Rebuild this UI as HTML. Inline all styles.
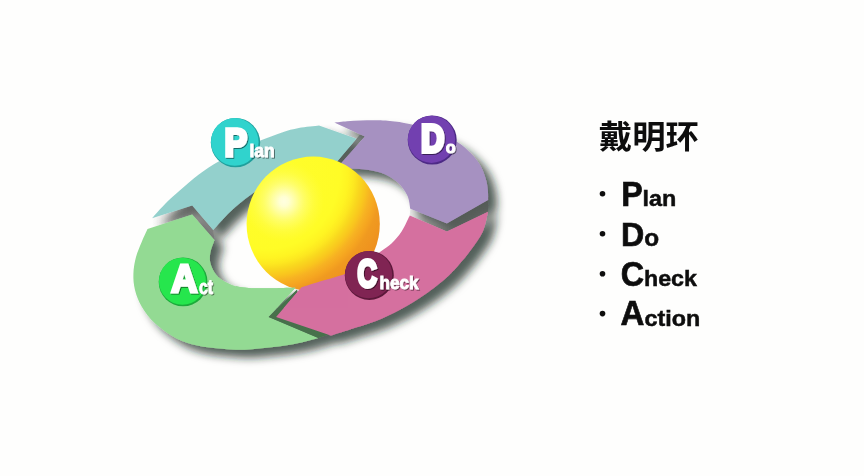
<!DOCTYPE html>
<html lang="zh-CN">
<head>
<meta charset="utf-8">
<title>戴明环 PDCA</title>
<style>
html,body{margin:0;padding:0;background:#fefefd;}
body{width:864px;height:476px;overflow:hidden;}
svg{display:block;}
</style>
</head>
<body>
<svg width="864" height="476" viewBox="0 0 864 476">
<defs>
<filter id="sh" x="-20%" y="-20%" width="140%" height="140%">
  <feGaussianBlur in="SourceAlpha" stdDeviation="4.4" result="b"/>
  <feOffset in="b" dx="8.5" dy="7.5" result="o"/>
  <feFlood flood-color="#14241c" flood-opacity="0.72"/>
  <feComposite in2="o" operator="in" result="s"/>
  <feMerge><feMergeNode in="s"/><feMergeNode in="SourceGraphic"/></feMerge>
</filter>
<filter id="ts" x="-20%" y="-20%" width="140%" height="140%">
  <feGaussianBlur in="SourceAlpha" stdDeviation="0.7" result="b"/>
  <feOffset in="b" dx="1" dy="1" result="o"/>
  <feComponentTransfer in="o" result="s"><feFuncA type="linear" slope="0.5"/></feComponentTransfer>
  <feMerge><feMergeNode in="s"/><feMergeNode in="SourceGraphic"/></feMerge>
</filter>
<filter id="soft" x="-5%" y="-5%" width="110%" height="110%">
  <feGaussianBlur stdDeviation="0.35"/>
</filter>
<linearGradient id="gapfade" gradientUnits="userSpaceOnUse" x1="152" y1="0" x2="190" y2="0">
  <stop offset="0" stop-color="#5e5e5c" stop-opacity="0"/>
  <stop offset="1" stop-color="#5e5e5c" stop-opacity="0.42"/>
</linearGradient>
<linearGradient id="gapfade2" gradientUnits="userSpaceOnUse" x1="408" y1="0" x2="450" y2="0">
  <stop offset="0" stop-color="#4c524e" stop-opacity="0.1"/>
  <stop offset="1" stop-color="#4c524e" stop-opacity="0.62"/>
</linearGradient>
<radialGradient id="ball" gradientUnits="userSpaceOnUse" cx="265" cy="175" r="135">
  <stop offset="0" stop-color="#fefe2e"/>
  <stop offset="0.55" stop-color="#fffc26"/>
  <stop offset="0.615" stop-color="#fff422"/>
  <stop offset="0.66" stop-color="#fde820"/>
  <stop offset="0.70" stop-color="#f9d81e"/>
  <stop offset="0.748" stop-color="#f9c61e"/>
  <stop offset="0.79" stop-color="#f7b222"/>
  <stop offset="0.837" stop-color="#f5a420"/>
  <stop offset="0.87" stop-color="#f09a20"/>
  <stop offset="1" stop-color="#ee8e1e"/>
</radialGradient>
<radialGradient id="glow" gradientUnits="userSpaceOnUse" cx="284" cy="201.5" r="40">
  <stop offset="0" stop-color="#fffff0" stop-opacity="0.92"/>
  <stop offset="0.12" stop-color="#ffffea" stop-opacity="0.88"/>
  <stop offset="0.3" stop-color="#ffffd0" stop-opacity="0.7"/>
  <stop offset="0.5" stop-color="#ffffb0" stop-opacity="0.45"/>
  <stop offset="0.75" stop-color="#ffff90" stop-opacity="0.18"/>
  <stop offset="1" stop-color="#ffff70" stop-opacity="0"/>
</radialGradient>
<clipPath id="ballclip"><ellipse cx="313.2" cy="224" rx="66.6" ry="67.4"/></clipPath>
<clipPath id="front"><rect x="236" y="268" width="112" height="40"/></clipPath>
</defs>
<rect width="864" height="476" fill="#fefefd"/>
<g id="ring" filter="url(#sh)">
<g id="gaps">
<path d="M152 218.3L192.2 205.5L213.2 230L214.5 240L192.2 214.5L147.5 229Z" fill="url(#gapfade)"/>
<path d="M410.3 208.8L446.9 223.6L488.1 200.1L488 211.8L446.9 231.5L409.8 215.5Z" fill="url(#gapfade2)"/>
<path d="M356.5 138.7L333 166.5L335 170L364.8 136.6L360 134.5Z" fill="#4c5654" opacity="0.6"/>
</g>
<path d="M318.2 337.9C315.0 338.7 306.2 341.4 298.8 342.9C291.4 344.4 282.6 346.0 273.6 347.1C264.6 348.2 253.5 349.4 245.0 349.7C236.5 350.0 230.4 349.5 222.4 348.8C214.4 348.1 204.8 347.2 197.2 345.5C189.6 343.8 184.0 342.3 177.0 338.7C170.0 335.1 161.1 328.9 155.2 323.6C149.3 318.3 145.2 312.4 141.8 306.8C138.4 301.2 136.4 295.5 135.0 290.0C133.6 284.5 133.2 279.3 133.4 273.8C133.6 268.3 134.6 262.3 136.0 257.0C137.4 251.7 139.9 246.5 141.8 241.8C143.7 237.1 146.6 231.1 147.5 229.0L192.2 214.5L214.5 240.0C213.8 242.3 210.8 249.4 210.2 253.6C209.6 257.8 209.6 261.4 211.0 265.3C212.4 269.2 214.9 274.0 218.4 277.3C221.9 280.6 226.9 283.1 232.0 284.9C237.1 286.7 241.8 287.4 248.8 288.0C255.8 288.6 266.2 288.3 274.0 288.2C281.8 288.1 292.0 287.6 295.6 287.5L268.6 316.9Z" fill="#93da93"/>
<path d="M297 289.5L268.6 316.9L318.2 337.9L330 334L300 300Z" fill="#46714b"/>
<path d="M488.0 211.8C487.1 215.2 485.5 225.6 482.6 232.0C479.7 238.4 474.4 245.0 470.4 250.5C466.4 256.0 462.6 260.5 458.6 265.0C454.6 269.5 452.2 272.6 446.6 277.5C441.0 282.4 432.9 288.9 425.2 294.2C417.5 299.5 408.7 305.0 400.4 309.5C392.1 314.0 383.6 318.0 375.2 321.3C366.8 324.6 357.4 327.1 350.0 329.5C342.6 331.9 334.0 334.6 330.8 335.6L276.1 316.9L301.5 287.3C304.1 286.5 309.5 284.6 316.8 282.4C324.1 280.1 337.4 277.0 345.4 273.8C353.4 270.6 359.2 266.6 365.0 263.0C370.8 259.4 375.6 255.3 380.0 252.0C384.4 248.7 387.9 246.8 391.5 243.4C395.1 240.0 398.8 235.7 401.6 231.5C404.4 227.3 406.9 221.2 408.3 218.5C409.7 215.8 409.6 216.0 409.8 215.5L446.9 231.5Z" fill="#d56f9f"/>
<path d="M334.3 122.5C336.4 122.3 342.6 121.5 347.0 121.2C351.4 120.9 356.1 120.7 360.4 120.5C364.7 120.3 368.8 120.2 373.0 120.2C377.2 120.2 380.4 120.1 385.6 120.6C390.8 121.0 398.4 121.9 404.1 122.9C409.8 123.9 414.0 124.8 420.0 126.5C426.0 128.2 433.7 130.3 440.0 133.0C446.3 135.7 452.8 139.2 458.0 142.6C463.2 146.0 467.3 149.8 471.0 153.6C474.7 157.4 477.8 161.3 480.3 165.5C482.8 169.7 484.6 174.9 485.8 179.0C487.1 183.1 487.4 186.5 487.8 190.0C488.2 193.5 488.1 198.4 488.1 200.1L446.9 223.6L410.3 208.8C409.8 206.6 409.5 199.9 407.3 195.4C405.1 190.9 401.7 185.8 397.2 182.0C392.7 178.2 387.7 174.8 380.4 172.5C373.1 170.2 361.1 168.9 353.5 168.5C345.9 168.1 338.1 169.8 335.0 170.0L364.8 136.6Z" fill="#a691c1"/>
<path d="M152.0 218.3C154.2 215.8 160.8 208.2 165.5 203.5C170.2 198.8 174.8 194.8 180.3 190.0C185.9 185.2 192.4 179.3 198.8 174.5C205.2 169.7 212.1 165.4 219.0 161.3C225.9 157.2 233.0 153.5 240.0 150.0C247.0 146.5 254.0 143.2 261.0 140.3C268.0 137.4 275.7 134.5 282.0 132.4C288.3 130.3 292.6 129.2 298.8 128.0C305.0 126.8 315.6 125.9 319.0 125.5L356.5 138.7L333.0 166.5C327.5 167.2 309.7 168.9 300.0 171.0C290.3 173.1 283.1 175.1 275.0 179.0C266.9 182.9 258.6 189.1 251.2 194.5C243.8 199.9 236.8 205.6 230.5 211.5C224.2 217.4 216.1 226.9 213.2 230.0L192.2 205.5Z" fill="#93d0cc"/>
</g>
<ellipse cx="313.2" cy="224" rx="66.6" ry="67.4" fill="url(#ball)"/>
<circle cx="284" cy="201.5" r="40" fill="url(#glow)" clip-path="url(#ballclip)"/>
<g clip-path="url(#front)">
<path d="M318.2 337.9C315.0 338.7 306.2 341.4 298.8 342.9C291.4 344.4 282.6 346.0 273.6 347.1C264.6 348.2 253.5 349.4 245.0 349.7C236.5 350.0 230.4 349.5 222.4 348.8C214.4 348.1 204.8 347.2 197.2 345.5C189.6 343.8 184.0 342.3 177.0 338.7C170.0 335.1 161.1 328.9 155.2 323.6C149.3 318.3 145.2 312.4 141.8 306.8C138.4 301.2 136.4 295.5 135.0 290.0C133.6 284.5 133.2 279.3 133.4 273.8C133.6 268.3 134.6 262.3 136.0 257.0C137.4 251.7 139.9 246.5 141.8 241.8C143.7 237.1 146.6 231.1 147.5 229.0L192.2 214.5L214.5 240.0C213.8 242.3 210.8 249.4 210.2 253.6C209.6 257.8 209.6 261.4 211.0 265.3C212.4 269.2 214.9 274.0 218.4 277.3C221.9 280.6 226.9 283.1 232.0 284.9C237.1 286.7 241.8 287.4 248.8 288.0C255.8 288.6 266.2 288.3 274.0 288.2C281.8 288.1 292.0 287.6 295.6 287.5L268.6 316.9Z" fill="#93da93"/>
<path d="M488.0 211.8C487.1 215.2 485.5 225.6 482.6 232.0C479.7 238.4 474.4 245.0 470.4 250.5C466.4 256.0 462.6 260.5 458.6 265.0C454.6 269.5 452.2 272.6 446.6 277.5C441.0 282.4 432.9 288.9 425.2 294.2C417.5 299.5 408.7 305.0 400.4 309.5C392.1 314.0 383.6 318.0 375.2 321.3C366.8 324.6 357.4 327.1 350.0 329.5C342.6 331.9 334.0 334.6 330.8 335.6L276.1 316.9L301.5 287.3C304.1 286.5 309.5 284.6 316.8 282.4C324.1 280.1 337.4 277.0 345.4 273.8C353.4 270.6 359.2 266.6 365.0 263.0C370.8 259.4 375.6 255.3 380.0 252.0C384.4 248.7 387.9 246.8 391.5 243.4C395.1 240.0 398.8 235.7 401.6 231.5C404.4 227.3 406.9 221.2 408.3 218.5C409.7 215.8 409.6 216.0 409.8 215.5L446.9 231.5Z" fill="#d56f9f"/>
</g>
<g font-family="'Liberation Sans', sans-serif" font-weight="bold" fill="#ffffff">
<circle cx="235.5" cy="142.6" r="24.7" fill="#1f9f9c"/>
<circle cx="234.8" cy="141.9" r="23.8" fill="#30d3cd"/>
<circle cx="432.2" cy="140" r="24.5" fill="#4d2a86"/>
<circle cx="431.5" cy="139.3" r="23.6" fill="#7240b0"/>
<circle cx="369.3" cy="275.4" r="24.5" fill="#5c183a"/>
<circle cx="368.6" cy="274.7" r="23.6" fill="#802453"/>
<circle cx="183.1" cy="281.9" r="24.4" fill="#1cab3b"/>
<circle cx="182.4" cy="281.2" r="23.5" fill="#26e64d"/>
<g filter="url(#ts)">
<text stroke-linejoin="miter" stroke-miterlimit="3"><tspan x="224.62" y="155.76" font-size="38.45" textLength="22.64" lengthAdjust="spacingAndGlyphs" stroke="#fff" stroke-width="3.46">P</tspan><tspan x="249.41" y="157.46" font-size="18.06" textLength="25.28" lengthAdjust="spacingAndGlyphs" stroke="#fff" stroke-width="0.81">lan</tspan></text>
<text stroke-linejoin="miter" stroke-miterlimit="3"><tspan x="420.92" y="152.14" font-size="39.11" textLength="23.33" lengthAdjust="spacingAndGlyphs" stroke="#fff" stroke-width="3.91">D</tspan><tspan x="445.84" y="153.25" font-size="16.23" textLength="9.94" lengthAdjust="spacingAndGlyphs" stroke="#fff" stroke-width="0.97">o</tspan></text>
<text stroke-linejoin="miter" stroke-miterlimit="3"><tspan x="357.57" y="286.98" font-size="38.64" textLength="19.23" lengthAdjust="spacingAndGlyphs" stroke="#fff" stroke-width="3.86">C</tspan><tspan x="379.43" y="288.73" font-size="18.97" textLength="39.08" lengthAdjust="spacingAndGlyphs" stroke="#fff" stroke-width="0.85">heck</tspan></text>
<text stroke-linejoin="miter" stroke-miterlimit="3"><tspan x="171.18" y="292.44" font-size="38.96" textLength="26.11" lengthAdjust="spacingAndGlyphs" stroke="#fff" stroke-width="3.12">A</tspan><tspan x="199.06" y="293.72" font-size="19.29" textLength="13.97" lengthAdjust="spacingAndGlyphs" stroke="#fff" stroke-width="0.87">ct</tspan></text>
</g>
</g>
<g fill="#0c0c0c" font-weight="bold" filter="url(#soft)">
<text x="598.8" y="147.8" font-size="32.04" textLength="100.1" lengthAdjust="spacingAndGlyphs" font-family="'Liberation Sans', 'Noto Sans CJK SC', sans-serif">戴明环</text>
<g font-family="'Liberation Sans', sans-serif">
<circle cx="602.5" cy="193.75" r="2.8"/>
<text stroke-linejoin="miter" stroke-miterlimit="3"><tspan x="621.13" y="205.83" font-size="34.75" textLength="21.48" lengthAdjust="spacingAndGlyphs" stroke="#0c0c0c" stroke-width="0.70">P</tspan><tspan x="642.60" y="205.65" font-size="22.38" textLength="33.77" lengthAdjust="spacingAndGlyphs" stroke="#0c0c0c" stroke-width="0.49">lan</tspan></text>
<circle cx="602.5" cy="233.75" r="2.8"/>
<text stroke-linejoin="miter" stroke-miterlimit="3"><tspan x="621.12" y="245.66" font-size="34.08" textLength="23.31" lengthAdjust="spacingAndGlyphs" stroke="#0c0c0c" stroke-width="0.68">D</tspan><tspan x="644.27" y="245.93" font-size="23.68" textLength="14.86" lengthAdjust="spacingAndGlyphs" stroke="#0c0c0c" stroke-width="0.52">o</tspan></text>
<circle cx="602.5" cy="273.80" r="2.8"/>
<text stroke-linejoin="miter" stroke-miterlimit="3"><tspan x="620.83" y="285.71" font-size="34.52" textLength="23.32" lengthAdjust="spacingAndGlyphs" stroke="#0c0c0c" stroke-width="0.69">C</tspan><tspan x="644.01" y="285.65" font-size="22.52" textLength="52.93" lengthAdjust="spacingAndGlyphs" stroke="#0c0c0c" stroke-width="0.50">heck</tspan></text>
<circle cx="602.5" cy="313.60" r="2.8"/>
<text stroke-linejoin="miter" stroke-miterlimit="3"><tspan x="620.50" y="325.46" font-size="34.23" textLength="23.90" lengthAdjust="spacingAndGlyphs" stroke="#0c0c0c" stroke-width="0.68">A</tspan><tspan x="644.50" y="325.55" font-size="22.52" textLength="55.65" lengthAdjust="spacingAndGlyphs" stroke="#0c0c0c" stroke-width="0.50">ction</tspan></text>
</g>
</g>
</svg>
</body>
</html>
